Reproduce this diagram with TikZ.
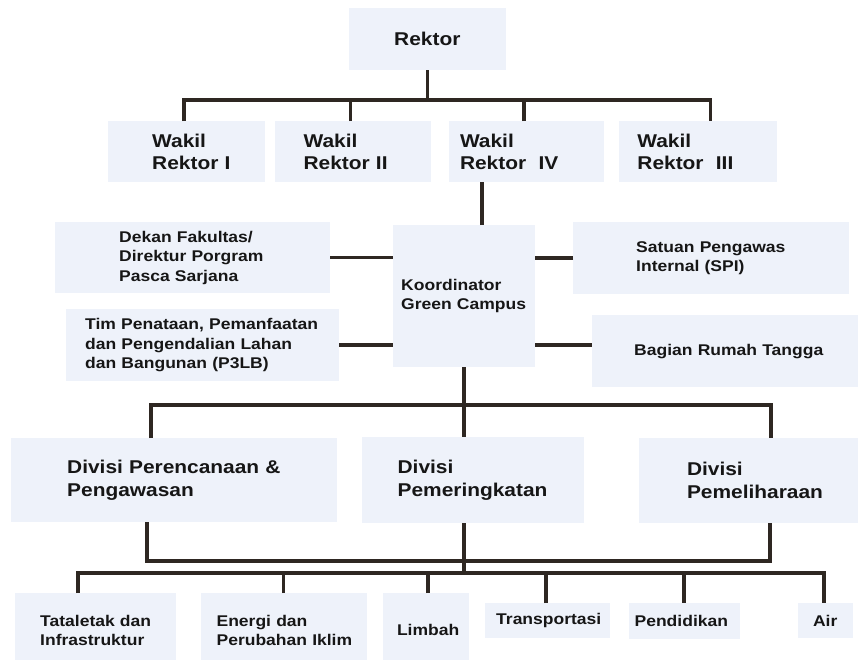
\documentclass[tikz,border=0pt]{standalone}
\usepackage{fontspec}
\newfontfamily\orgfont[FakeStretch=1.13]{Liberation Sans}
\usetikzlibrary{positioning}
\definecolor{boxfill}{HTML}{EEF2FA}
\definecolor{linecol}{HTML}{2E2722}
\definecolor{textcol}{HTML}{161616}
\tikzset{
	orgbox/.style={fill=boxfill,inner sep=0pt,align=left,text=textcol,font=\orgfont\bfseries\fontsize{18.5}{22.5}\selectfont},
	smallbox/.style={orgbox,font=\orgfont\bfseries\fontsize{15.5}{19.5}\selectfont},
	boxsize/.style n args={3}{text width=#1pt,minimum height=#2pt,execute at begin node={\leftskip=#3pt\rightskip=-100pt plus 1fil}},
	orgline/.style={draw=linecol,line width=3.5pt}
}

\begin{document}
\begin{tikzpicture}[x=1pt,y=-1pt]
		\useasboundingbox (0,0) rectangle (858,659);
		\node[orgbox,boxsize={157}{62}{45},anchor=north west](rektor) at (349,8){Rektor};
		\node[orgbox,boxsize={157}{61}{44},anchor=north west](wr1) at (108,121){Wakil\\Rektor I};
		\node[orgbox,boxsize={156}{61}{29},right=9pt of wr1](wr2){Wakil\\Rektor II};
		\node[orgbox,boxsize={155}{61}{11},right=18pt of wr2](wr4){Wakil\\Rektor\ \ IV};
		\node[orgbox,boxsize={158}{61}{18},right=15pt of wr4](wr3){Wakil\\Rektor\ \ III};
		\coordinate (bar1) at (0,100);
		\draw[orgline] (rektor.south) -- (rektor.south |- bar1);
		\draw[orgline] ([xshift=-2.5pt]wr1.north) |- ([xshift=12pt]wr3.north |- bar1) -- ([xshift=12pt]wr3.north);
		\draw[orgline] ([xshift=-2pt]wr2.north) -- ([xshift=-2pt]wr2.north |- bar1);
		\draw[orgline] ([xshift=-2.5pt]wr4.north) -- ([xshift=-2.5pt]wr4.north |- bar1);
		\node[smallbox,boxsize={142}{142}{8},anchor=north west](kg) at (393,225){Koordinator\\Green Campus};
		\draw[orgline] ([xshift=18pt]kg.north) -- ([xshift=18pt]kg.north |- wr4.south);
		\node[smallbox,boxsize={275}{71}{64},anchor=north west](dekan) at (55,222){Dekan Fakultas/\\Direktur Porgram\\Pasca Sarjana};
		\draw[orgline] (dekan.east) -- (dekan.east -| kg.west);
		\node[smallbox,boxsize={273}{72}{19},anchor=north west](tim) at (66,309){Tim Penataan, Pemanfaatan\\dan Pengendalian Lahan\\dan Bangunan (P3LB)};
		\draw[orgline] (tim.east) -- (tim.east -| kg.west);
		\node[smallbox,boxsize={276}{72}{63},anchor=north west](spi) at (573,222){Satuan Pengawas\\Internal (SPI)};
		\draw[orgline] (spi.west) -- (spi.west -| kg.east);
		\node[smallbox,boxsize={270}{72}{42},anchor=north west](rumah) at (592,315){Bagian Rumah Tangga};
		\draw[orgline] (kg.east |- tim.east) -- (rumah.west |- tim.east);
		% divisi
		\node[orgbox,boxsize={326}{84}{56},anchor=north west](div1) at (11,438){Divisi Perencanaan \&\\Pengawasan};
		\node[orgbox,boxsize={222}{86}{36},right=24pt of div1](div2){Divisi\\Pemeringkatan};
		\node[orgbox,boxsize={222}{85}{48},right=55pt of div2](div3){Divisi\\Pemeliharaan};
		\coordinate (bar2) at (0,405);
		\draw[orgline] (kg.south) -- (kg.south |- div2.north);
		\draw[orgline] ([xshift=-23pt]div1.north) |- ([xshift=21pt]div3.north |- bar2) -- ([xshift=21pt]div3.north);
		\coordinate (bar3) at (0,561);
		\coordinate (bar4) at (0,573);
		\draw[orgline] ([xshift=-27pt]div1.south) |- ([xshift=20pt]div3.south |- bar3) -- ([xshift=20pt]div3.south);
		\draw[orgline] (kg.south |- div2.south) -- (kg.south |- bar4);
		% bidang
		\node[smallbox,boxsize={161}{74}{25},anchor=north west](tata) at (15,593){Tataletak dan\\Infrastruktur};
		\node[smallbox,boxsize={166}{74}{16},right=24pt of tata](energi){Energi dan\\Perubahan Iklim};
		\node[smallbox,boxsize={86}{74}{14},right=16pt of energi](limbah){Limbah};
		\node[smallbox,boxsize={125}{35}{11},anchor=north west](transp) at (485,603){Transportasi};
		\node[smallbox,boxsize={111}{36}{6},right=18pt of transp](pend){Pendidikan};
		\node[smallbox,boxsize={55}{35}{15},right=58pt of pend](air){Air};
		\draw[orgline] ([xshift=-17.5pt]tata.north) |- ([xshift=-1.5pt]air.north |- bar4) -- ([xshift=-1.5pt]air.north);
		\draw[orgline] (energi.north) -- (energi.north |- bar4);
		\draw[orgline] ([xshift=2pt]limbah.north) -- ([xshift=2pt]limbah.north |- bar4);
		\draw[orgline] ([xshift=-1.5pt]transp.north) -- ([xshift=-1.5pt]transp.north |- bar4);
		\draw[orgline] (pend.north) -- (pend.north |- bar4);
	\end{tikzpicture}
\end{document}
